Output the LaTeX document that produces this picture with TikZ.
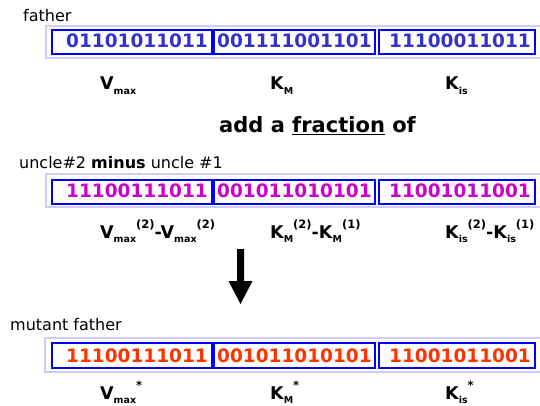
\documentclass[tikz,border=0pt]{standalone}
\usepackage{fontspec}
\setmainfont{DejaVu Sans}
\definecolor{bitA}{HTML}{3333CC}
\definecolor{bitB}{HTML}{CC00CC}
\definecolor{bitC}{HTML}{FF3300}
\definecolor{inbox}{HTML}{0000FF}
\definecolor{outbox}{HTML}{CCCCFF}
\newcommand{\sbx}[1]{\raisebox{-0.5ex}{\fontsize{9.5}{9.5}\selectfont\bfseries #1}}
\newcommand{\spx}[1]{\raisebox{0.95ex}{\fontsize{11.5}{11.5}\selectfont\bfseries #1}}
\begin{document}
\begin{tikzpicture}[x=1pt,y=-1pt,
  txt/.style={inner sep=0pt, anchor=base west, font=\fontsize{16}{16}\selectfont},
  lbl/.style={inner sep=0pt, anchor=base west, font=\fontsize{17.5}{17.5}\selectfont\bfseries},
  bits/.style={inner sep=0pt, anchor=base west, font=\fontsize{18.5}{18.5}\selectfont\bfseries},
  outer/.style={draw=outbox, line width=1.3pt},
  cell/.style={draw=inbox, line width=1.6pt}]
\fill[white] (0,0) rectangle (540,406);
\useasboundingbox (0,0) rectangle (540,406);

% ---------- row 1 ----------
\node[txt] (t1) at (23,22) {father};
\draw[outer] (540,26) -- (46,26) -- (46,58) -- (540,58);
\draw[cell] (52,30) rectangle (212,54);
\draw[cell] (214,30) rectangle (375,54);
\draw[cell] (379,30) rectangle (535,54);
\node[bits, text=bitA] (a1) at (66,48) {01101011011};
\node[bits, text=bitA] (a2) at (217,48) {001111001101};
\node[bits, text=bitA] (a3) at (389,48) {11100011011};
\node[lbl] (l11) at (100,90) {V\sbx{max}};
\node[lbl] (l12) at (270,90) {K\sbx{M}};
\node[lbl] (l13) at (445,90) {K\sbx{is}};

\node[inner sep=0pt, anchor=base west, font=\fontsize{21}{21}\selectfont\bfseries] (add) at (219,133) {add a \underline{fraction} of};

% ---------- row 2 ----------
\node[txt] (t2) at (19,168) {uncle\#2 \textbf{minus} uncle \#1};
\draw[outer] (540,174) -- (46,174) -- (46,207) -- (540,207);
\draw[cell] (52,180) rectangle (212,204);
\draw[cell] (214,180) rectangle (375,204);
\draw[cell] (379,180) rectangle (535,204);
\node[bits, text=bitB] (b1) at (66,197) {11100111011};
\node[bits, text=bitB] (b2) at (217,197) {001011010101};
\node[bits, text=bitB] (b3) at (389,197) {11001011001};
\node[lbl] (l21) at (100,238) {V\sbx{max}\spx{(2)}-V\sbx{max}\spx{(2)}};
\node[lbl] (l22) at (270,238) {K\sbx{M}\spx{(2)}-K\sbx{M}\spx{(1)}};
\node[lbl] (l23) at (445,238) {K\sbx{is}\spx{(2)}-K\sbx{is}\spx{(1)}};

% ---------- arrow ----------
\fill[black] (237,249) -- (244,249) -- (244,281) -- (252.5,281) -- (240.5,304)
  -- (228.5,281) -- (237,281) -- cycle;

% ---------- row 3 ----------
\node[txt] (t3) at (10,330) {mutant father};
\draw[outer] (540,338) -- (45,338) -- (45,372) -- (540,372);
\draw[cell] (52,343) rectangle (212,368);
\draw[cell] (214,343) rectangle (375,368);
\draw[cell] (379,343) rectangle (535,368);
\node[bits, text=bitC] (c1) at (66,362) {11100111011};
\node[bits, text=bitC] (c2) at (217,362) {001011010101};
\node[bits, text=bitC] (c3) at (389,362) {11001011001};
\node[lbl] (l31) at (100,399) {V\sbx{max}\spx{*}};
\node[lbl] (l32) at (270,399) {K\sbx{M}\spx{*}};
\node[lbl] (l33) at (445,399) {K\sbx{is}\spx{*}};
\end{tikzpicture}
\end{document}
